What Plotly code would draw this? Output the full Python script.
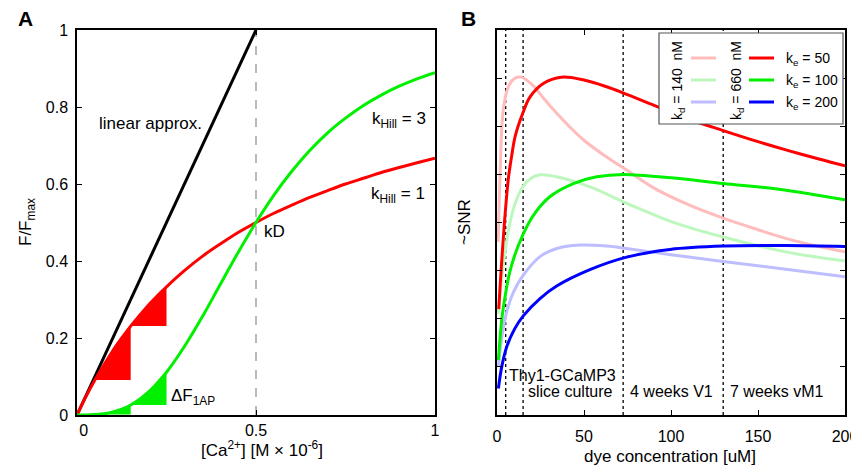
import plotly.graph_objects as go

W, H = 859, 468
OFF = 8  # page body margin of the rendered html
FONT = "Liberation Sans, Arial, sans-serif"

# ---------------- Panel A data ----------------
ca = [0, 0.025, 0.05, 0.075, 0.1, 0.125, 0.15, 0.175, 0.2, 0.225, 0.25, 0.3, 0.35,
      0.4, 0.45, 0.5, 0.55, 0.6, 0.65, 0.7, 0.75, 0.8, 0.85, 0.9, 0.95, 1.0]
f_hill1 = [0, 0.048, 0.091, 0.130, 0.167, 0.200, 0.231, 0.259, 0.286, 0.310, 0.333, 0.375,
           0.412, 0.444, 0.474, 0.500, 0.524, 0.545, 0.565, 0.583, 0.600, 0.615, 0.630,
           0.643, 0.655, 0.667]
f_hill3 = [0, 0.0001, 0.001, 0.003, 0.008, 0.015, 0.026, 0.041, 0.060, 0.084, 0.111, 0.178,
           0.255, 0.339, 0.422, 0.500, 0.571, 0.633, 0.687, 0.733, 0.771, 0.804, 0.831,
           0.854, 0.873, 0.889]
linear_x = [0, 0.5]
linear_y = [0, 1]
step_edges = [0.05, 0.15, 0.25]
kd_a = 0.5
a_xticks = [0, 0.5, 1]
a_xticktext = ["\u2007\u20080", "0.5", "1"]

# ---------------- Panel B data ----------------
c_red = [1, 2, 3, 4.5, 6.5, 8.5, 10.5, 14.8, 19, 26.6, 37, 50, 63, 72, 92, 110, 130, 150, 166, 185, 200]
v_red = [2.2, 2.8, 3.35, 4.1, 4.9, 5.4, 5.8, 6.27, 6.61, 6.89, 7.02, 6.96, 6.82, 6.70, 6.41,
         6.15, 5.91, 5.68, 5.51, 5.32, 5.18]
c_pink = [0.7, 1.7, 3.6, 6.5, 10.3, 14, 20.9, 27, 34.3, 42, 49.6, 63, 74.5, 90, 110, 130, 150,
          166, 185, 200]
v_pink = [3.6, 4.9, 6.34, 6.82, 7.0, 7.02, 6.84, 6.57, 6.27, 5.98, 5.72, 5.36, 5.09, 4.72, 4.37,
          4.09, 3.85, 3.67, 3.50, 3.39]
c_green = [0.8, 2.7, 4.6, 7, 10, 14.8, 20.9, 30.5, 43.9, 57.3, 72.6, 100, 130, 162, 200]
v_green = [1.14, 1.97, 2.45, 2.92, 3.3, 3.74, 4.15, 4.54, 4.81, 4.95, 5.0, 4.93, 4.81, 4.69, 4.47]
c_lgreen = [0.7, 2, 3.6, 5.5, 7.5, 10, 14.8, 20, 24.7, 34.3, 53.4, 74.5, 100, 130, 166, 200]
v_lgreen = [2.1, 2.6, 3.1, 3.6, 4.0, 4.35, 4.74, 4.93, 4.99, 4.95, 4.74, 4.40, 4.02, 3.70, 3.39, 3.2]
c_blue = [0.8, 2.7, 5.6, 10.3, 15.1, 24.7, 34.3, 53.4, 74.5, 99.4, 130, 166, 200]
v_blue = [0.55, 1.0, 1.42, 1.8, 2.06, 2.42, 2.68, 3.02, 3.28, 3.44, 3.51, 3.52, 3.5]
c_lblue = [0.7, 2, 3.5, 5.6, 9.4, 15, 24.7, 34.3, 47.7, 63, 74.5, 100, 130, 166, 200]
v_lblue = [1.0, 1.4, 1.78, 2.15, 2.55, 2.9, 3.29, 3.46, 3.53, 3.51, 3.46, 3.33, 3.19, 3.03, 2.87]
prep_lines = [5, 15, 72.5, 130]
prep_labels = ["Thy1-GCaMP3", "slice culture", "4 weeks V1", "7 weeks vM1"]
ke_labels = ["k<sub>e</sub> = 50", "k<sub>e</sub> = 100", "k<sub>e</sub> = 200"]
kd_labels = ["k<sub>d</sub> = 140  nM", "k<sub>d</sub> = 660  nM"]

RED, GREEN, BLUE = "#ff0000", "#00f000", "#0000ff"
PINK, LGREEN, LBLUE = "#ffbcbc", "#bdf7bd", "#bdbdff"


def px(x):
    return (x - OFF) / W


def py(y):
    return 1 - (y - OFF) / H


fig = go.Figure()

# ---- Panel A steps ----
for f, col in [(f_hill1, RED), (f_hill3, GREEN)]:
    for i in range(len(step_edges) - 1):
        s, e = step_edges[i], step_edges[i + 1]
        pts = [(x, y) for x, y in zip(ca, f) if s - 1e-9 <= x <= e + 1e-9]
        y0 = pts[0][1]
        xs = [p[0] for p in pts] + [e, s]
        ys = [p[1] for p in pts] + [y0, y0]
        fig.add_trace(go.Scatter(x=xs, y=ys, fill="toself", fillcolor=col, mode="none",
                                 xaxis="x", yaxis="y", hoverinfo="skip"))

fig.add_trace(go.Scatter(x=[kd_a, kd_a], y=[0, 1], mode="lines",
                         line=dict(color="#8c8c8c", width=1.2, dash="dash"), xaxis="x", yaxis="y"))
fig.add_trace(go.Scatter(x=linear_x, y=linear_y, mode="lines", line=dict(color="black", width=3),
                         xaxis="x", yaxis="y"))
fig.add_trace(go.Scatter(x=ca, y=f_hill1, mode="lines", line=dict(color=RED, width=3, shape="spline"),
                         xaxis="x", yaxis="y"))
fig.add_trace(go.Scatter(x=ca, y=f_hill3, mode="lines", line=dict(color=GREEN, width=3, shape="spline"),
                         xaxis="x", yaxis="y"))

# ---- Panel B ----
for cx in prep_lines:
    fig.add_trace(go.Scatter(x=[cx, cx], y=[0, 8], mode="lines",
                             line=dict(color="black", width=1.3, dash="dot"), xaxis="x2", yaxis="y2"))
for cx, vy, col in [(c_pink, v_pink, PINK), (c_lgreen, v_lgreen, LGREEN), (c_lblue, v_lblue, LBLUE),
                    (c_red, v_red, RED), (c_green, v_green, GREEN), (c_blue, v_blue, BLUE)]:
    fig.add_trace(go.Scatter(x=cx, y=vy, mode="lines", line=dict(color=col, width=3, shape="spline"),
                             xaxis="x2", yaxis="y2"))

axis_common = dict(showline=True, linecolor="black", linewidth=1.5, mirror="ticks", ticks="inside",
                   ticklen=5, tickwidth=1.2, tickcolor="black", showgrid=False, zeroline=False,
                   automargin=False, tickfont=dict(family=FONT, size=16, color="black"))

fig.update_layout(
    width=W, height=H, margin=dict(l=0, r=0, t=0, b=0, autoexpand=False),
    paper_bgcolor="white", plot_bgcolor="white", showlegend=False,
    xaxis=dict(domain=[px(77), px(435)], range=[0, 1], tickvals=a_xticks, ticktext=a_xticktext,
               anchor="y", ticklabelstandoff=0, **axis_common),
    yaxis=dict(domain=[py(415), py(30)], range=[0, 1], tickvals=[0, 0.2, 0.4, 0.6, 0.8, 1],
               anchor="x", ticklabelstandoff=4, **axis_common),
    xaxis2=dict(domain=[px(497), px(845)], range=[0, 200], tickvals=[0, 50, 100, 150, 200],
                anchor="y2", ticklabelstandoff=6, **axis_common),
    yaxis2=dict(domain=[py(415), py(30)], range=[0, 8], dtick=1, showticklabels=False,
                anchor="x2", **axis_common),
)

ann = []


def T(text, x, y, size=17, **kw):
    d = dict(text=text, x=px(x), y=py(y), xref="paper", yref="paper", showarrow=False,
             xanchor="center", yanchor="middle",
             font=dict(family=FONT, size=size, color="black"))
    d.update(kw)
    ann.append(d)


T("<b>A</b>", 25, 18, size=21)
T("<b>B</b>", 468, 18, size=21)
T("linear approx.", 150, 123)
T("k<sub>Hill</sub> = 3", 399, 120)
T("k<sub>Hill</sub> = 1", 398, 195)
T("kD", 274, 231)
T("ΔF<sub>1AP</sub>", 193, 397)
T("F/F<sub>max</sub>", 27, 222, textangle=-90)
T("[Ca<sup>2+</sup>] [M × 10<sup>-6</sup>]", 262, 449)
T("~SNR", 465, 222, textangle=-90)
T("dye concentration [uM]", 670, 456)

# preparation labels (data coords)
label_pos = [(prep_lines[0] + 0.5, 0.83), (prep_lines[1] + 1.5, 0.48),
             (prep_lines[2] + 2.5, 0.48), (prep_lines[3] + 2.5, 0.48)]
for (lx, ly), t in zip(label_pos, prep_labels):
    ann.append(dict(text=t, x=lx, y=ly, xref="x2", yref="y2", showarrow=False, xanchor="left",
                    yanchor="middle", font=dict(family=FONT, size=16, color="black")))

# legend box
shapes = [dict(type="rect", xref="paper", yref="paper", x0=px(659), x1=px(843), y0=py(124), y1=py(33),
               line=dict(color="#555555", width=1.2), fillcolor="white", layer="above")]
leg_y = [58, 80, 102]
for ly, lc, dc, t in zip(leg_y, [PINK, LGREEN, LBLUE], [RED, GREEN, BLUE], ke_labels):
    shapes.append(dict(type="line", xref="paper", yref="paper", x0=px(691), x1=px(716), y0=py(ly), y1=py(ly),
                       line=dict(color=lc, width=3), layer="above"))
    shapes.append(dict(type="line", xref="paper", yref="paper", x0=px(749), x1=px(774), y0=py(ly), y1=py(ly),
                       line=dict(color=dc, width=3), layer="above"))
    T(t, 784, ly + 1, size=14, xanchor="left")
T(kd_labels[0], 678, 81, size=14, textangle=-90)
T(kd_labels[1], 737, 81, size=14, textangle=-90)

fig.update_layout(annotations=ann, shapes=shapes)
fig.write_html("out.html")
